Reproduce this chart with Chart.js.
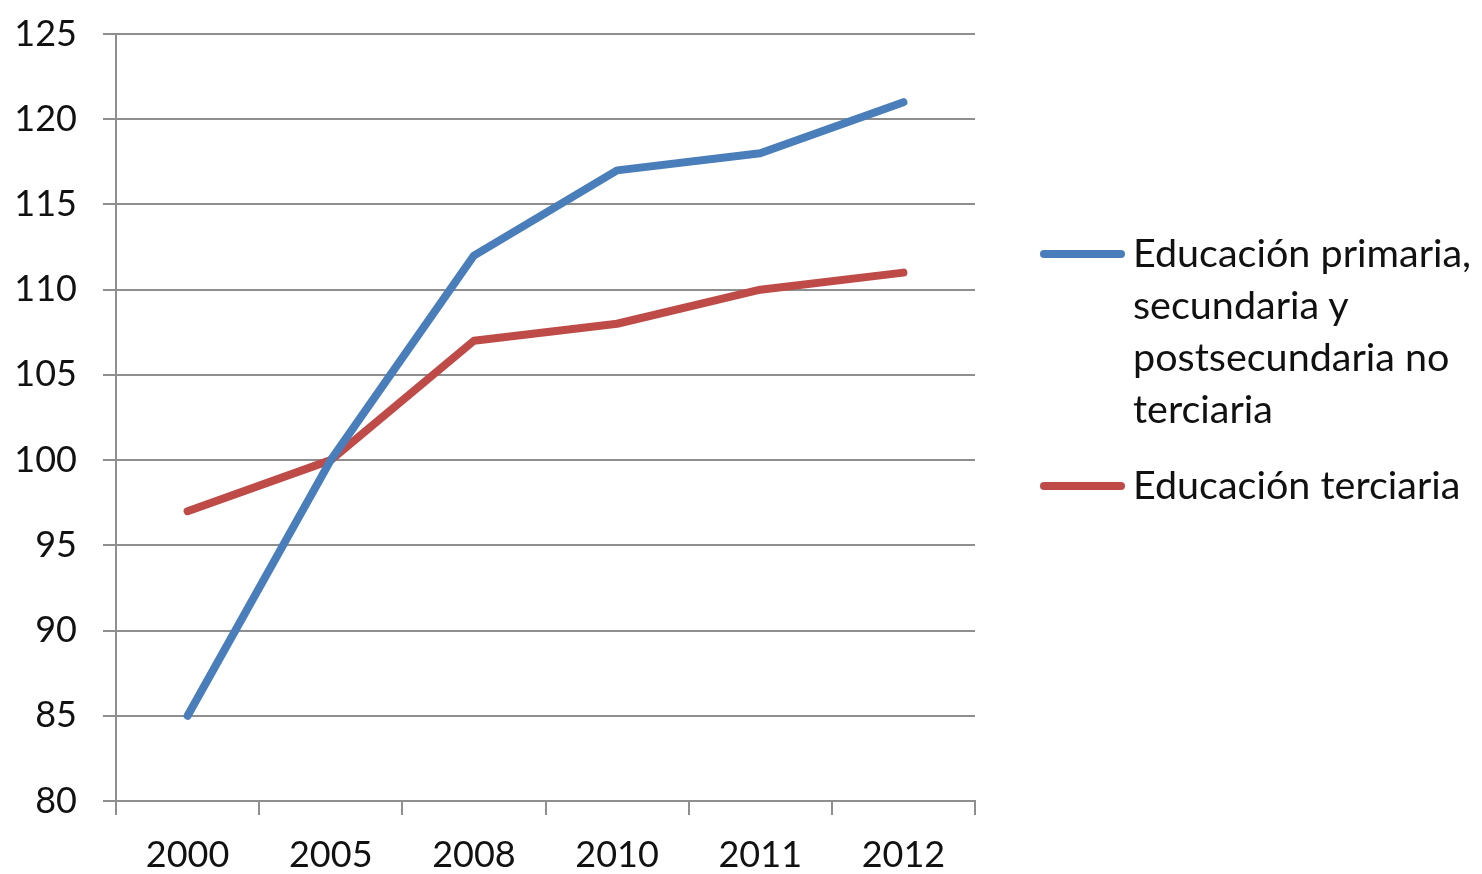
<!DOCTYPE html>
<html>
<head>
<meta charset="utf-8">
<script src="https://cdn.jsdelivr.net/npm/chart.js@4/dist/chart.umd.min.js"></script>
<style>
  html, body { margin: 0; padding: 0; background: #fff; }
  #wrap { position: relative; width: 1482px; height: 874px; }
  canvas { position: absolute; left: 0; top: 0; }
  #legend { position: absolute; left: 1040px; top: 226px; font-family: Lato, sans-serif; font-size: 39.5px; color: #111; }
  .item { position: relative; padding-left: 93px; line-height: 52px; margin-bottom: 24px; white-space: nowrap; }
  .swatch { position: absolute; left: 0; top: 24px; width: 85px; height: 8px; border-radius: 4px; }
</style>
</head>
<body>
<div id="wrap">
  <canvas id="c" width="1482" height="874"></canvas>
  <div id="legend"></div>
</div>
<script>
const categories = ["2000", "2005", "2008", "2010", "2011", "2012"];
const seriesNames = ["Educación primaria,\nsecundaria y\npostsecundaria no\nterciaria", "Educación terciaria"];
const primariaValues = [85, 100, 112, 117, 118, 121];
const terciariaValues = [97, 100, 107, 108, 110, 111];
const seriesColors = ["#4a7ebb", "#be4b48"];
const yMin = 80, yMax = 125, yStep = 5;

const gridColor = "#8e8e8e";
const tickFont = { family: "Lato, sans-serif", size: 36 };

const chart = new Chart(document.getElementById("c"), {
  type: "line",
  data: {
    labels: categories,
    datasets: [
      { label: seriesNames[0], data: primariaValues, borderColor: seriesColors[0], backgroundColor: seriesColors[0],
        borderWidth: 8, pointRadius: 0, tension: 0, borderCapStyle: "round", borderJoinStyle: "round" },
      { label: seriesNames[1], data: terciariaValues, borderColor: seriesColors[1], backgroundColor: seriesColors[1],
        borderWidth: 8, pointRadius: 0, tension: 0, borderCapStyle: "round", borderJoinStyle: "round" }
    ]
  },
  options: {
    responsive: false,
    animation: false,
    layout: { padding: { left: 0, top: 34, right: 507, bottom: 0 } },
    plugins: { legend: { display: false }, tooltip: { enabled: false } },
    scales: {
      x: {
        offset: true,
        grid: { offset: true, drawOnChartArea: false, drawTicks: true, tickLength: 14, color: gridColor, lineWidth: 2 },
        border: { display: true, color: gridColor, width: 2 },
        ticks: { font: tickFont, color: "#111", padding: 19, maxRotation: 0 },
        afterFit: (s) => { s.height = 73; s.paddingLeft = 0; s.paddingRight = 0; }
      },
      y: {
        min: yMin, max: yMax,
        grid: { color: gridColor, lineWidth: 2, tickLength: 13 },
        border: { display: true, color: gridColor, width: 2 },
        ticks: { stepSize: yStep, font: tickFont, color: "#111", padding: 26 },
        afterFit: (s) => { s.width = 116; s.paddingTop = 0; s.paddingBottom = 0; }
      }
    }
  }
});

const legend = document.getElementById("legend");
chart.data.datasets.forEach((ds) => {
  const item = document.createElement("div");
  item.className = "item";
  const sw = document.createElement("span");
  sw.className = "swatch";
  sw.style.background = ds.borderColor;
  item.appendChild(sw);
  ds.label.split("\n").forEach((line, i) => {
    if (i) item.appendChild(document.createElement("br"));
    item.appendChild(document.createTextNode(line));
  });
  legend.appendChild(item);
});
</script>
</body>
</html>
